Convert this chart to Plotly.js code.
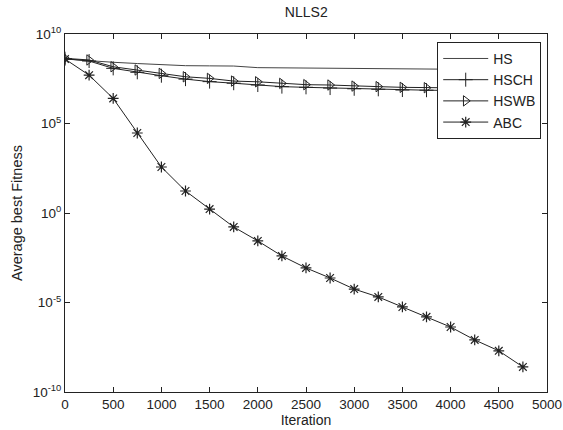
<!DOCTYPE html>
<html>
<head>
<meta charset="utf-8">
<script src="https://cdn.plot.ly/plotly-3.0.1.min.js"></script>
<style>html,body{margin:0;padding:0;background:#fff;}#chart{width:563px;height:430px;}</style>
</head>
<body>
<div id="chart"></div>
<script>
const iterations = [0,250,500,750,1000,1250,1500,1750,2000,2250,2500,2750,3000,3250,3500,3750,4000,4250,4500,4750];
// values as log10 of average best fitness
const hsLog   = [8.6,8.5,8.42,8.35,8.28,8.23,8.22,8.21,8.12,8.11,8.1,8.1,8.09,8.05,8.04,8.03,8.02,8.01,8.0,8.0];
const hschLog = [8.62,8.49,8.08,7.86,7.67,7.48,7.34,7.25,7.15,7.06,7.02,6.98,6.94,6.91,6.87,6.86,6.85,6.84,6.83,6.82];
const hswbLog = [8.64,8.55,8.17,7.99,7.8,7.61,7.52,7.37,7.33,7.24,7.17,7.15,7.09,7.06,7.02,7.0,6.98,6.97,6.96,6.95];
const abcLog  = [8.6,7.7,6.4,4.47,2.57,1.23,0.22,-0.78,-1.56,-2.4,-3.07,-3.63,-4.25,-4.69,-5.25,-5.8,-6.37,-7.09,-7.7,-8.6];
const yTickVals = [1e-10,1e-5,1,1e5,1e10];
const yTickText = ['10<sup>-10</sup>','10<sup>-5</sup>','10<sup>0</sup>','10<sup>5</sup>','10<sup>10</sup>'];
const xTickVals = [0,500,1000,1500,2000,2500,3000,3500,4000,4500,5000];

const pow = a => a.map(v => Math.pow(10, v));
const lc = '#222';
const traces = [
  {name:'HS', x:iterations, y:pow(hsLog), mode:'lines', line:{color:'#444', width:1}},
  {name:'HSCH', x:iterations, y:pow(hschLog), mode:'lines+markers', line:{color:lc, width:1},
   marker:{symbol:'cross-thin-open', size:10, color:lc, line:{width:1, color:lc}}},
  {name:'HSWB', x:iterations, y:pow(hswbLog), mode:'lines+markers', line:{color:lc, width:1},
   marker:{symbol:'triangle-right-open', size:9, color:lc, line:{width:1, color:lc}}},
  {name:'ABC', x:iterations, y:pow(abcLog), mode:'lines+markers', line:{color:lc, width:1},
   marker:{symbol:'asterisk-open', size:9, color:lc, line:{width:1.2, color:lc}}}
];
const font = {family:'Liberation Sans, Arial, sans-serif', color:'#222'};
const f = s => Object.assign({size:s}, font);
const layout = {
  width:563, height:430,
  margin:{l:65, r:16, t:34, b:38},
  paper_bgcolor:'#fff', plot_bgcolor:'#fff',
  font:f(13),
  title:{text:'NLLS2', x:0.544, xanchor:'center', y:0.972, yanchor:'middle', font:f(14)},
  xaxis:{range:[0,5000], tickvals:xTickVals, ticks:'inside', ticklen:5, tickcolor:'#222',
    showline:true, linecolor:'#222', linewidth:1, mirror:'ticks', showgrid:false, zeroline:false,
    title:{text:'Iteration', standoff:3, font:f(14)}, tickfont:f(13.5)},
  yaxis:{type:'log', range:[-10,10], tickvals:yTickVals, ticktext:yTickText, ticks:'inside', ticklen:5, tickcolor:'#222',
    showline:true, linecolor:'#222', linewidth:1, mirror:'ticks', showgrid:false, zeroline:false,
    title:{text:'Average best Fitness', standoff:6, font:f(14.5)}, tickfont:f(13.5)},
  legend:{x:0.988, xanchor:'right', y:0.978, yanchor:'top', bordercolor:'#222', borderwidth:1, bgcolor:'#fff',
    font:f(14), tracegroupgap:0, itemwidth:45},
  showlegend:true
};
Plotly.newPlot('chart', traces, layout, {displayModeBar:false, staticPlot:true});
</script>
</body>
</html>
